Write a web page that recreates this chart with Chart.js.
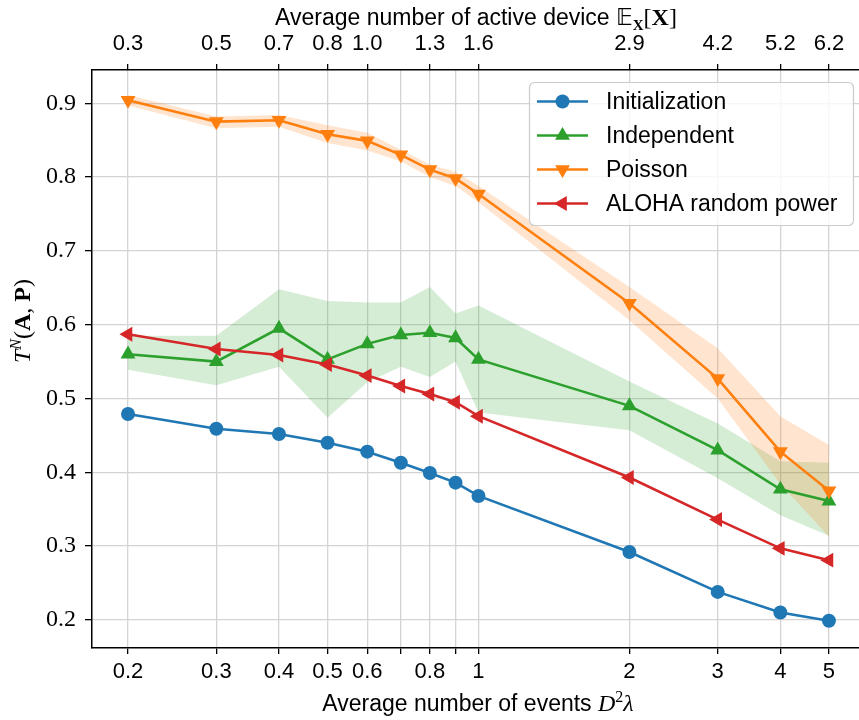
<!DOCTYPE html>
<html>
<head>
<meta charset="utf-8">
<script src="https://cdn.jsdelivr.net/npm/chart.js@4.4.1/dist/chart.umd.min.js"></script>
<style>
  html, body { margin: 0; padding: 0; background: #fff; }
  #wrap { width: 859px; height: 720px; }
</style>
</head>
<body>
<div id="wrap"><canvas id="c" width="859" height="720"></canvas></div>
<script>
// ---------------- data ----------------
const xValues = [0.2, 0.3, 0.4, 0.5, 0.6, 0.7, 0.8, 0.9, 1, 2, 3, 4, 5];

const initialization = [0.479, 0.459, 0.452, 0.440, 0.428, 0.413, 0.399, 0.386, 0.368, 0.292, 0.238, 0.210, 0.199];
const independent    = [0.560, 0.550, 0.595, 0.553, 0.574, 0.586, 0.589, 0.582, 0.553, 0.490, 0.430, 0.377, 0.361];
const independentUpper = [0.585, 0.585, 0.648, 0.632, 0.630, 0.630, 0.651, 0.615, 0.626, 0.523, 0.466, 0.415, 0.413];
const independentLower = [0.539, 0.518, 0.543, 0.474, 0.522, 0.543, 0.529, 0.550, 0.481, 0.457, 0.392, 0.342, 0.314];
const poisson        = [0.904, 0.875, 0.877, 0.858, 0.849, 0.830, 0.810, 0.798, 0.777, 0.629, 0.527, 0.428, 0.375];
const poissonUpper   = [0.911, 0.882, 0.884, 0.870, 0.860, 0.837, 0.817, 0.807, 0.788, 0.651, 0.568, 0.476, 0.437];
const poissonLower   = [0.897, 0.866, 0.868, 0.846, 0.836, 0.821, 0.800, 0.788, 0.766, 0.606, 0.500, 0.384, 0.313];
const aloha          = [0.587, 0.567, 0.559, 0.546, 0.531, 0.517, 0.506, 0.495, 0.476, 0.393, 0.336, 0.297, 0.281];

const seriesNames = ['Initialization', 'Independent', 'Poisson', 'ALOHA random power'];

const bottomTickValues = [0.2, 0.3, 0.4, 0.5, 0.6, 0.7, 0.8, 0.9, 1, 2, 3, 4, 5];
const bottomTickLabels = ['0.2', '0.3', '0.4', '0.5', '0.6', '', '0.8', '', '1', '2', '3', '4', '5'];
const topTickValues = [0.2, 0.3, 0.4, 0.5, 0.6, 0.8, 1, 2, 3, 4, 5];
const topTickLabels = ['0.3', '0.5', '0.7', '0.8', '1.0', '1.3', '1.6', '2.9', '4.2', '5.2', '6.2'];
const yTickValues = [0.2, 0.3, 0.4, 0.5, 0.6, 0.7, 0.8, 0.9];

// ---------------- styling ----------------
const COLORS = {
  blue: '#1f77b4', green: '#2ca02c', orange: '#ff7f0e', red: '#d62728'
};
const SANS = '"Liberation Sans", Arial, Helvetica, sans-serif';
const SERIF = '"Liberation Serif", "DejaVu Serif", serif';
const X_MIN = 0.1695, X_MAX = 5.74, Y_MIN = 0.162, Y_MAX = 0.945;

const pts = arr => arr.map((v, i) => ({ x: xValues[i], y: v }));

function lineDataset(label, values, color, style, rotation, radius, order) {
  return {
    label, data: pts(values), borderColor: color, backgroundColor: color,
    borderWidth: 2.6, pointStyle: style, pointRotation: rotation,
    pointRadius: radius, pointHoverRadius: radius, pointBorderWidth: 0,
    pointBackgroundColor: color, fill: false, tension: 0, order,
    isSeries: true
  };
}
function bandDataset(values, fillColor, fillTarget, order) {
  return {
    label: '', data: pts(values), borderColor: 'transparent', borderWidth: 0,
    backgroundColor: fillColor, pointRadius: 0, pointHoverRadius: 0,
    fill: fillTarget, tension: 0, order, isSeries: false
  };
}

const datasets = [
  bandDataset(independentUpper, 'rgba(44,160,44,0.2)', '+1', 30),
  bandDataset(independentLower, 'rgba(44,160,44,0.2)', false, 31),
  bandDataset(poissonUpper, 'rgba(255,127,14,0.2)', '+1', 20),
  bandDataset(poissonLower, 'rgba(255,127,14,0.2)', false, 21),
  lineDataset(seriesNames[0], initialization, COLORS.blue, 'circle', 0, 7, 4),
  lineDataset(seriesNames[1], independent, COLORS.green, 'triangle', 0, 8.6, 3),
  lineDataset(seriesNames[2], poisson, COLORS.orange, 'triangle', 180, 8.6, 2),
  lineDataset(seriesNames[3], aloha, COLORS.red, 'triangle', 270, 8.6, 1)
];

// ---------------- rich text helper ----------------
function richWidth(ctx, segs) {
  let w = 0;
  for (const s of segs) { ctx.font = s.font; w += ctx.measureText(s.text).width; }
  return w;
}
function drawRich(ctx, segs, cx, baseline) {
  const w = richWidth(ctx, segs);
  let x = cx - w / 2;
  ctx.textAlign = 'left';
  ctx.textBaseline = 'alphabetic';
  ctx.fillStyle = '#000';
  for (const s of segs) {
    ctx.font = s.font;
    ctx.fillText(s.text, x, baseline + (s.dy || 0));
    x += ctx.measureText(s.text).width;
  }
}

const titlesPlugin = {
  id: 'titles',
  afterDraw(chart) {
    const ctx = chart.ctx;
    ctx.save();
    // top title
    drawRich(ctx, [
      { text: 'Average number of active device ', font: '23px ' + SANS },
      { text: '𝔼', font: '23px "DejaVu Sans", sans-serif' },
      { text: 'X', font: 'bold 15px ' + SERIF, dy: 5 },
      { text: '[', font: '24px ' + SERIF },
      { text: 'X', font: 'bold 24px ' + SERIF },
      { text: ']', font: '24px ' + SERIF }
    ], 476, 25);
    // bottom title
    drawRich(ctx, [
      { text: 'Average number of events ', font: '23px ' + SANS },
      { text: 'D', font: 'italic 24px ' + SERIF },
      { text: '2', font: '16px ' + SERIF, dy: -9 },
      { text: 'λ', font: 'italic 24px ' + SERIF }
    ], 478, 711);
    // y title (rotated)
    ctx.translate(30, 321);
    ctx.rotate(-Math.PI / 2);
    drawRich(ctx, [
      { text: 'T', font: 'italic 24px ' + SERIF },
      { text: 'N', font: 'italic 16px ' + SERIF, dy: -9 },
      { text: '(', font: '24px ' + SERIF },
      { text: 'A', font: 'bold 24px ' + SERIF },
      { text: ', ', font: '24px ' + SERIF },
      { text: 'P', font: 'bold 24px ' + SERIF },
      { text: ')', font: '24px ' + SERIF }
    ], 0, 0);
    ctx.restore();
  }
};

function drawMarker(ctx, style, rotation, r, x, y, color) {
  ctx.fillStyle = color;
  ctx.beginPath();
  if (style === 'circle') {
    ctx.arc(x, y, r, 0, Math.PI * 2);
  } else {
    let rad = rotation * Math.PI / 180;
    for (let k = 0; k < 3; k++) {
      const px = x + Math.sin(rad) * r, py = y - Math.cos(rad) * r;
      if (k === 0) ctx.moveTo(px, py); else ctx.lineTo(px, py);
      rad += 2 * Math.PI / 3;
    }
    ctx.closePath();
  }
  ctx.fill();
}

const legendPlugin = {
  id: 'customLegend',
  afterDraw(chart) {
    const ctx = chart.ctx;
    const items = chart.data.datasets.filter(d => d.isSeries);
    const left = 529.5, top = 82.5, w = 324, h = 143, rad = 5;
    ctx.save();
    ctx.beginPath();
    ctx.moveTo(left + rad, top);
    ctx.arcTo(left + w, top, left + w, top + h, rad);
    ctx.arcTo(left + w, top + h, left, top + h, rad);
    ctx.arcTo(left, top + h, left, top, rad);
    ctx.arcTo(left, top, left + w, top, rad);
    ctx.closePath();
    ctx.fillStyle = 'rgba(255,255,255,0.8)';
    ctx.fill();
    ctx.strokeStyle = '#cccccc';
    ctx.lineWidth = 1.2;
    ctx.stroke();
    items.forEach((d, i) => {
      const y = 101.5 + i * 34;
      ctx.strokeStyle = d.borderColor;
      ctx.lineWidth = 2.6;
      ctx.beginPath();
      ctx.moveTo(537, y); ctx.lineTo(588, y);
      ctx.stroke();
      drawMarker(ctx, d.pointStyle, d.pointRotation, d.pointRadius, 562.5, y, d.borderColor);
      ctx.fillStyle = '#000';
      ctx.font = '23px ' + SANS;
      ctx.textAlign = 'left';
      ctx.textBaseline = 'middle';
      ctx.fillText(d.label, 606, y + 1);
    });
    ctx.restore();
  }
};

const gridCommon = { color: '#d4d4d4', lineWidth: 1.3, tickLength: 6, tickColor: '#000', tickWidth: 1.3 };

function fitX(height) {
  return s => {
    s.height = height;
    s.paddingLeft = 0; s.paddingRight = 0;
  };
}

new Chart(document.getElementById('c'), {
  type: 'line',
  data: { datasets },
  options: {
    responsive: false,
    devicePixelRatio: 1,
    animation: false,
    events: [],
    layout: { autoPadding: false, padding: { left: 0, right: 0, top: 0, bottom: 0 } },
    plugins: {
      legend: { display: false },
      tooltip: { enabled: false },
      filler: { drawTime: 'beforeDatasetsDraw' }
    },
    scales: {
      x: {
        type: 'logarithmic', position: 'bottom', min: X_MIN, max: X_MAX,
        afterBuildTicks: s => { s.ticks = bottomTickValues.map(v => ({ value: v })); },
        afterFit: fitX(72),
        ticks: {
          autoSkip: false, maxRotation: 0, minRotation: 0, padding: 5, color: '#000',
          font: { family: SANS, size: 22 },
          callback: (v, i) => bottomTickLabels[i]
        },
        grid: Object.assign({}, gridCommon),
        border: { color: '#000', width: 1.5 }
      },
      x2: {
        type: 'logarithmic', position: 'top', min: X_MIN, max: X_MAX,
        afterBuildTicks: s => { s.ticks = topTickValues.map(v => ({ value: v })); },
        afterFit: fitX(70),
        ticks: {
          autoSkip: false, maxRotation: 0, minRotation: 0, padding: 7, color: '#000',
          font: { family: SANS, size: 22 },
          callback: (v, i) => topTickLabels[i]
        },
        grid: Object.assign({}, gridCommon, { drawOnChartArea: false }),
        border: { color: '#000', width: 1.5 }
      },
      y: {
        type: 'linear', position: 'left', min: Y_MIN, max: Y_MAX,
        afterBuildTicks: s => { s.ticks = yTickValues.map(v => ({ value: v })); },
        afterFit: s => { s.width = 92; s.paddingTop = 0; s.paddingBottom = 0; },
        ticks: {
          padding: 9, color: '#000',
          font: { family: 'Liberation Serif, DejaVu Serif, serif', size: 24 },
          callback: v => Number(v).toFixed(1)
        },
        grid: Object.assign({}, gridCommon, { tickLength: 7 }),
        border: { color: '#000', width: 1.5 }
      }
    }
  },
  plugins: [titlesPlugin, legendPlugin]
});
</script>
</body>
</html>
